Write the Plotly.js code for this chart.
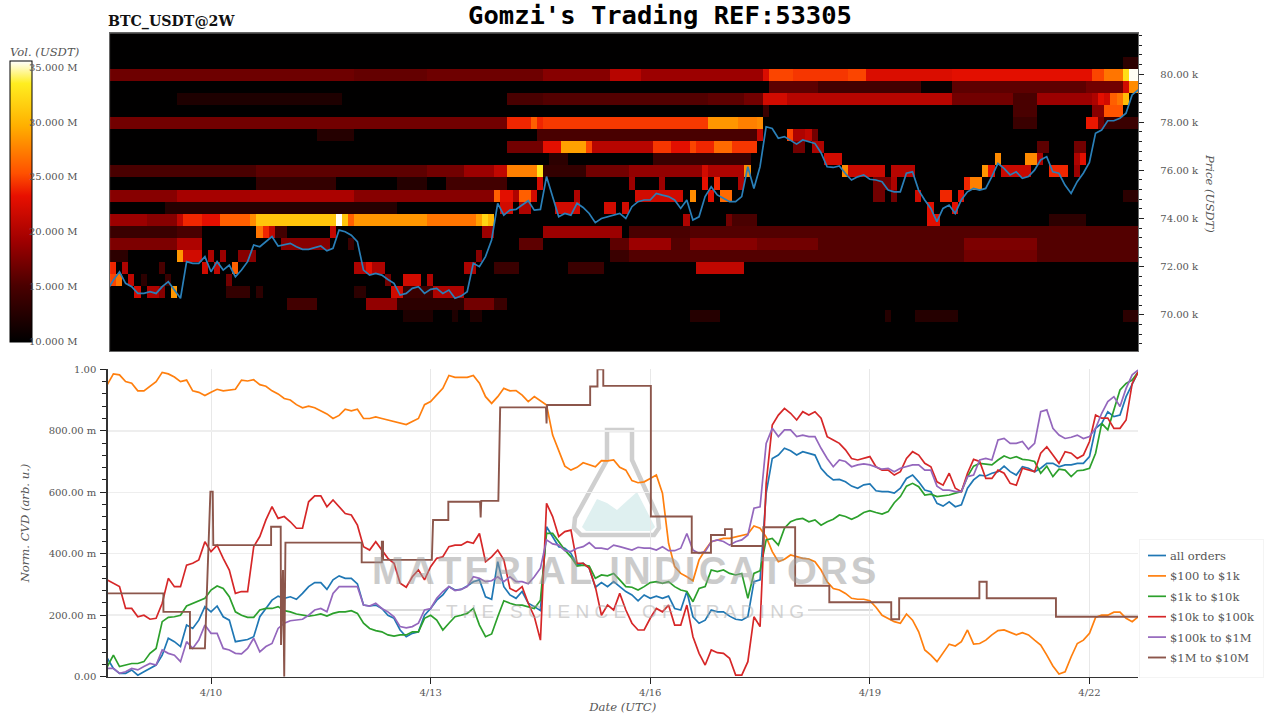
<!DOCTYPE html>
<html><head><meta charset="utf-8">
<script src="https://cdn.plot.ly/plotly-3.0.1.min.js"></script>
<style>html,body{margin:0;padding:0;background:#fff}#c{width:1280px;height:720px}</style>
</head><body><div id="c"></div>
<script>
// ---- CVD series, sampled every 2 h from 4/8 14:00 UTC
const allOrders=[.06,.027,.011,.011,.022,.005,.016,.027,.038,.07,.125,.114,.098,.168,.157,.184,.228,.211,.23,.195,.184,.114,.117,.121,.13,.195,.222,.249,.262,.255,.26,.252,.271,.293,.306,.306,.284,.315,.328,.32,.32,.302,.233,.23,.233,.222,.2,.19,.152,.13,.141,.146,.2,.222,.249,.266,.293,.282,.284,.295,.309,.315,.26,.252,.374,.293,.266,.255,.277,.239,.228,.215,.488,.456,.423,.418,.401,.363,.369,.353,.291,.306,.293,.309,.293,.277,.266,.247,.266,.255,.262,.255,.262,.222,.217,.277,.195,.174,.184,.217,.211,.211,.197,.187,.184,.195,.309,.315,.597,.71,.721,.743,.735,.721,.732,.727,.721,.678,.656,.64,.642,.634,.62,.613,.624,.627,.605,.602,.602,.597,.613,.645,.656,.634,.607,.602,.564,.555,.569,.553,.559,.613,.64,.656,.653,.662,.667,.685,.667,.656,.683,.678,.667,.678,.694,.694,.683,.689,.689,.694,.694,.716,.808,.824,.862,.846,.851,.911,.954,.992];
const usd100to1k=[.95,.985,.982,.96,.955,.93,.93,.945,.96,.99,.985,.975,.96,.965,.93,.925,.915,.925,.935,.93,.932,.935,.965,.962,.966,.95,.945,.93,.92,.905,.9,.885,.875,.88,.875,.865,.855,.84,.85,.87,.865,.87,.84,.84,.845,.84,.835,.83,.825,.82,.83,.84,.885,.895,.917,.938,.98,.974,.974,.974,.98,.955,.911,.889,.911,.938,.93,.931,.916,.895,.911,.898,.884,.786,.732,.685,.672,.681,.696,.689,.683,.703,.702,.705,.681,.672,.638,.631,.634,.645,.656,.597,.434,.358,.336,.325,.312,.38,.412,.439,.445,.45,.45,.455,.461,.464,.49,.483,.455,.407,.374,.382,.396,.39,.385,.383,.374,.347,.309,.287,.282,.271,.255,.252,.252,.247,.226,.2,.19,.179,.174,.204,.184,.146,.087,.07,.049,.076,.106,.1,.114,.152,.106,.108,.119,.136,.15,.152,.143,.136,.143,.136,.119,.103,.07,.035,.009,.016,.065,.108,.119,.141,.193,.2,.2,.21,.21,.19,.179,.195];
const usd1kto10k=[.033,.07,.033,.038,.043,.043,.049,.076,.092,.179,.193,.195,.2,.23,.239,.247,.255,.282,.295,.287,.26,.211,.2,.193,.193,.217,.222,.222,.228,.215,.211,.204,.2,.197,.2,.204,.197,.206,.211,.211,.215,.206,.174,.157,.15,.146,.136,.132,.136,.136,.146,.146,.19,.2,.184,.152,.174,.195,.2,.206,.222,.168,.13,.139,.195,.247,.239,.233,.233,.228,.222,.249,.466,.466,.439,.412,.39,.36,.363,.36,.32,.331,.328,.336,.315,.293,.291,.282,.293,.306,.309,.304,.309,.293,.282,.277,.244,.287,.293,.347,.342,.347,.336,.331,.336,.255,.336,.345,.445,.45,.428,.483,.504,.512,.515,.504,.51,.493,.504,.512,.526,.521,.512,.521,.534,.54,.534,.529,.537,.566,.586,.62,.629,.618,.591,.594,.586,.588,.591,.597,.602,.651,.685,.694,.692,.689,.705,.718,.71,.716,.707,.705,.7,.662,.685,.651,.675,.672,.651,.67,.672,.678,.727,.824,.803,.868,.933,.954,.965,.992];
const usd10kto100k=[.315,.304,.293,.222,.222,.195,.2,.187,.19,.239,.32,.293,.293,.363,.369,.38,.439,.407,.428,.385,.347,.271,.277,.277,.423,.456,.51,.553,.515,.521,.504,.483,.483,.569,.588,.588,.553,.575,.553,.531,.526,.493,.423,.412,.439,.412,.385,.369,.304,.291,.325,.347,.315,.358,.385,.39,.423,.428,.428,.439,.434,.466,.374,.39,.412,.38,.287,.277,.293,.239,.195,.119,.564,.521,.456,.472,.477,.369,.369,.353,.293,.2,.233,.217,.271,.217,.174,.152,.152,.19,.222,.211,.233,.168,.168,.233,.13,.076,.038,.087,.078,.076,.06,.005,.005,.049,.195,.163,.629,.819,.851,.873,.857,.835,.862,.851,.862,.841,.781,.77,.759,.738,.71,.705,.71,.716,.683,.672,.672,.656,.667,.71,.732,.721,.694,.683,.634,.623,.662,.613,.602,.662,.707,.7,.645,.645,.672,.662,.629,.623,.678,.672,.667,.727,.748,.721,.694,.732,.727,.71,.721,.765,.851,.841,.841,.808,.808,.835,.954,.992];
const usd100kto1M=[.027,.027,.011,.016,.027,.022,.033,.043,.038,.087,.076,.07,.049,.114,.092,.119,.168,.141,.141,.092,.087,.076,.074,.092,.125,.081,.098,.108,.157,.174,.182,.184,.187,.2,.217,.222,.211,.271,.293,.293,.293,.293,.233,.23,.239,.222,.211,.195,.163,.159,.163,.174,.217,.222,.255,.277,.293,.28,.284,.293,.325,.32,.309,.312,.325,.309,.325,.309,.309,.302,.325,.353,.445,.432,.428,.41,.407,.418,.423,.436,.418,.418,.414,.428,.423,.418,.412,.421,.418,.418,.412,.423,.41,.41,.418,.466,.412,.401,.407,.439,.445,.44,.428,.439,.445,.461,.548,.553,.759,.808,.781,.803,.803,.781,.786,.781,.781,.743,.71,.683,.705,.7,.683,.689,.692,.689,.683,.675,.678,.667,.678,.683,.689,.689,.672,.672,.62,.607,.607,.602,.602,.651,.656,.705,.71,.705,.77,.775,.759,.759,.765,.74,.759,.862,.868,.808,.786,.775,.779,.786,.775,.781,.808,.857,.895,.911,.879,.938,.982,.998];
// $1M to $10M is a step curve: hours after 4/10 00:00 UTC and value
const stepHours=[-34,-15.6,-15.6,-6.9,-6.9,-2,-0.2,0.56,0.75,19.7,19.7,22.85,22.95,23.6,24,24.4,49.4,49.4,56,56,56.4,56.4,72.4,72.8,77.8,77.8,88.2,88.4,88.6,94.2,94.8,109.8,110,110.2,124.3,124.3,126.7,126.7,128.6,128.6,144.2,144.2,157.6,157.6,163.9,163.9,168.5,168.5,170.7,170.7,181.1,181.1,191.5,191.5,202.7,202.7,223,223,225.6,225.6,251.9,251.9,254.3,254.3,277,277,303.9];
const stepValues=[.271,.271,.211,.211,.092,.092,.602,.602,.428,.428,.488,.488,.103,.347,0,.436,.436,.372,.372,.439,.439,.38,.38,.51,.51,.569,.569,.518,.572,.572,.876,.876,.824,.884,.884,.944,.944,1,1,.946,.946,.521,.521,.403,.403,.461,.461,.48,.48,.425,.425,.486,.486,.296,.296,.242,.242,.187,.187,.255,.255,.309,.309,.255,.255,.195,.195];
// ---- BTC price (thousand USDT), every 2 h from 4/8 14:00 UTC
const priceK=[71.03,71.45,71.79,71.31,71.17,70.89,70.89,70.96,70.89,71.17,71.38,71.03,70.69,72.21,72.14,72.14,72.42,71.79,72.21,71.86,72.07,71.58,71.86,72.21,72.9,72.83,73.04,73.25,72.86,72.9,72.97,72.83,72.72,72.72,72.8,72.86,72.66,72.76,73.52,73.45,73.31,73.04,71.86,71.65,71.72,71.65,71.47,71.31,70.82,70.89,71.1,71.17,70.89,71.06,71.1,70.89,71.03,70.69,70.78,70.96,72.14,72,72.42,73.11,74.63,74.14,74.35,74.38,74.56,74.74,74.35,74.38,75.74,74.91,74.07,74.21,74.14,74.63,74.46,74.21,73.83,74,74.07,74.14,74.21,74,74.49,74.7,74.77,74.77,75.04,74.97,74.91,74.77,74.42,74.77,73.94,74.07,74.91,75.32,74.98,74.84,74.7,74.7,74.91,76.15,75.25,76.15,77.81,77.74,77.33,77.4,77.26,77.09,77.26,77.19,77.12,76.73,76.15,76.12,76.18,75.87,75.6,75.73,75.81,75.63,75.6,75.53,75.18,75.11,75.11,75.88,75.94,75.18,74.77,74.42,73.87,74.42,74.56,74.21,74.77,75.11,75.25,75.18,75.25,75.74,76.29,76.08,75.81,75.94,75.67,75.74,76.01,76.43,76.57,75.94,75.88,75.39,75.04,75.53,75.88,76.33,77.54,77.67,78.06,78.06,78.16,78.37,79.13,79.34];
// ---- liquidity rows: [first 2 h column, end column, volume in M USDT]
const row8045=[[166,170,13]];
const row7995=[[0,40,16.8],[40,52,16.3],[52,71,16.8],[71,82,18],[82,87,20.5],[87,107,19],[107,108,22.5],[108,112,25],[112,118,24.5],[118,121,24.5],[121,124,25],[124,138,22.5],[138,161,23],[161,163,25],[163,166,27],[166,167,32.5],[167,170,35.5]];
const row7945=[[108,116,16],[116,133,14.5],[133,138,10.5],[138,160,16],[160,166,17],[166,167,22],[167,170,28]];
const row7895=[[11,38,12],[65,71,15],[71,98,15.5],[98,104,16],[104,107,17],[107,111,22],[111,138,20.5],[138,148,17],[148,152,15],[152,161,19],[161,162,20],[162,163,23],[163,164,22],[164,165,26],[165,166,27],[166,167,30.5]];
const row7845=[[107,108,14],[148,152,15],[161,163,18],[163,166,25.5]];
const row7795=[[0,65,17],[65,69,24],[69,70,26],[70,71,24],[71,98,24.6],[98,103,28.5],[103,106,27.5],[106,107,28],[148,152,14],[160,162,23.5],[162,163,17],[163,170,14]];
const row7745=[[34,40,12.5],[70,106,15],[106,107,21],[111,112,25],[112,114,20],[114,115,21],[115,116,17]];
const row7695=[[65,71,17],[71,74,23],[74,78,29],[78,79,25],[79,89,20.5],[89,92,24.5],[92,95,23],[95,96,25],[96,99,24],[99,102,26.5],[102,106,24.5],[112,114,17],[115,117,20],[152,154,16],[158,160,17]];
const row7645=[[72,75,13],[89,105,14],[117,120,22],[145,146,28],[150,152,28],[152,153,20],[158,159,20],[159,160,23]];
const row7595=[[0,24,15],[24,52,16],[52,58,17],[58,63,19],[63,65,21],[65,70,27.5],[70,71,33],[71,78,13.5],[78,85,17],[85,97,18.5],[97,98,22],[98,104,20],[104,105,28],[120,121,28],[121,127,21.5],[128,132,20.5],[143,144,28.5],[144,145,23],[146,151,21.5],[154,157,24],[158,159,19]];
const row7545=[[24,37,13.5],[47,52,12.5],[55,65,14.5],[70,71,22],[85,86,19],[90,91,19],[97,98,23],[99,100,24],[103,104,20],[125,128,17],[128,129,20],[140,141,24],[141,143,27.5]];
const row7495=[[0,11,18],[11,23,19.5],[23,40,19.8],[40,63,18],[63,64,26],[64,66,23],[66,67,20],[67,69,26],[69,70,22],[76,77,20],[86,94,22],[95,96,28],[98,99,23],[100,102,26.5],[125,127,17],[128,129,17],[132,133,22],[136,138,24],[139,140,23],[166,170,13]];
const row7445=[[9,47,12.5],[64,66,22],[67,69,20],[73,77,22],[81,83,22],[84,85,22],[134,135,23],[138,139,23]];
const row7395=[[0,6,19],[6,11,18],[11,12,21],[12,15,24],[15,18,23],[18,23,26],[23,24,28],[24,37,31],[37,38,35.5],[38,39,31],[39,40,26],[40,52,28.5],[52,60,27],[60,61,29],[61,62,32],[62,63,30],[94,95,20],[101,102,17],[102,106,15],[134,136,23],[154,160,13]];
const row7345=[[0,11,14],[11,15,15],[24,25,27],[25,26,24],[26,27,21],[27,29,14.5],[36,37,21],[61,63,19],[71,84,19],[85,95,15],[95,106,15.5],[106,170,15.5]];
const row7295=[[0,11,17.5],[11,15,20],[28,36,18],[39,40,14],[67,71,16],[82,85,16],[85,92,19],[92,95,15.5],[95,106,18],[106,116,17],[116,140,15.5],[140,152,17.5],[152,170,15.5]];
const row7245=[[0,3,13],[11,12,28.5],[12,15,22],[16,17,20],[18,19,19],[21,24,18],[60,61,18],[82,85,14],[85,140,15.5],[140,152,17],[152,170,15.5]];
const row7195=[[0,1,24],[2,3,20],[8,9,15],[15,16,22],[17,18,21],[20,21,26],[40,42,20],[42,43,23],[43,45,20],[58,60,20],[63,67,14],[75,81,14],[96,104,21]];
const row7145=[[0,1,25],[1,2,27],[3,4,21],[5,6,13],[9,10,14],[19,20,17],[45,46,17],[48,51,22],[52,53,20]];
const row7095=[[4,5,22],[6,8,20],[8,9,18],[10,11,28.5],[19,23,13.5],[24,25,13],[40,42,13],[46,48,22],[48,53,14],[53,58,20]];
const row7045=[[29,34,14.5],[42,47,18.5],[47,58,13],[58,63,17],[63,65,14]];
const row6995=[[48,53,12],[56,57,12],[59,61,12],[95,100,12.5],[127,128,12.5],[132,139,12.5],[166,170,13]];
const priceBins=[80.45,79.95,79.45,78.95,78.45,77.95,77.45,76.95,76.45,75.95,75.45,74.95,74.45,73.95,73.45,72.95,72.45,71.95,71.45,70.95,70.45,69.95];
const binRows=[row8045,row7995,row7945,row7895,row7845,row7795,row7745,row7695,row7645,row7595,row7545,row7495,row7445,row7395,row7345,row7295,row7245,row7195,row7145,row7095,row7045,row6995];
const bottomBin=68.45, binStep=0.5, binCount=28, colCount=170;
const zGrid=Array.from({length:binCount},()=>new Array(colCount).fill(10));
priceBins.forEach((p,k)=>{
  const r=zGrid[Math.round((p-bottomBin)/binStep)];
  binRows[k].forEach(([a,b,v])=>{for(let c=a;c<b&&c<colCount;c++)r[c]=v;});
});
// ---- labels
const dateTickVals=['2026-04-10','2026-04-13','2026-04-16','2026-04-19','2026-04-22'];
const dateTickText=['4/10','4/13','4/16','4/19','4/22'];
const priceTickVals=[70,72,74,76,78,80];
const priceTickText=['70.00 k','72.00 k','74.00 k','76.00 k','78.00 k','80.00 k'];
const cvdTickVals=[0,.2,.4,.6,.8,1];
const cvdTickText=['0.00','200.00 m','400.00 m','600.00 m','800.00 m','1.00'];
const volTicks=[35,30,25,20,15,10];
const seriesNames=['all orders','$100 to $1k','$1k to $10k','$10k to $100k','$100k to $1M','$1M to $10M'];
const seriesColors=['#1f77b4','#ff7f0e','#2ca02c','#d62728','#9467bd','#8c564b'];
const seriesValues=[allOrders,usd100to1k,usd1kto10k,usd10kto100k,usd100kto1M];

const SERIF='"DejaVu Serif", serif', INK='#555';
const W=1280,H=720, px=x=>x/W, py=y=>1-y/H;
const HOUR=36e5, sampleStart='2026-04-08 14:00', base=Date.UTC(2026,3,10);
const stamp=h=>new Date(base+h*HOUR).toISOString().slice(0,19).replace('T',' ');
const poly=(pts)=>'M'+pts.map(p=>px(p[0]).toFixed(5)+','+py(p[1]).toFixed(5)).join(' L')+' Z';
const tickFont={family:SERIF,size:10,color:INK};
const titleFont={family:SERIF,size:11.6,color:INK,style:'italic'};

const traces=[{type:'heatmap',z:zGrid,x0:'2026-04-08 15:54',dx:2*HOUR,y0:bottomBin,dy:binStep,xaxis:'x',yaxis:'y',
  zmin:9.95,zmax:35.6,zsmooth:false,hoverinfo:'skip',showlegend:false,
  colorscale:[[0,'#000000'],[.2,'#4a0000'],[.36,'#a00000'],[.52,'#e81000'],[.6,'#ff5000'],[.77,'#ffb000'],[.92,'#ffee20'],[1,'#ffffff']],
  colorbar:{x:px(9.5),xanchor:'left',xpad:0,ypad:0,y:py(61),yanchor:'top',lenmode:'pixels',len:281,thicknessmode:'pixels',thickness:22,
    outlinewidth:1,outlinecolor:'#000',borderwidth:0,showticklabels:false,ticks:''}},
 {type:'scatter',mode:'lines',y:priceK,x0:sampleStart,dx:2*HOUR,xaxis:'x',yaxis:'y',cliponaxis:false,showlegend:false,
  line:{color:'#2a7fb8',width:1.7},name:'Price'}];
seriesValues.forEach((v,i)=>traces.push({type:'scatter',mode:'lines',y:v,x0:sampleStart,dx:2*HOUR,xaxis:'x2',yaxis:'y2',cliponaxis:false,
  name:seriesNames[i],legendgroup:'g'+i,line:{color:seriesColors[i],width:1.7}}));
traces.push({type:'scatter',mode:'lines',x:stepHours.map(stamp),y:stepValues,xaxis:'x2',yaxis:'y2',cliponaxis:false,
  name:seriesNames[5],legendgroup:'g5',line:{color:seriesColors[5],width:1.9}});

const spaced=s=>s.split('').join('\u200A');
const annotations=[
 {text:'BTC_USDT@2W',xref:'paper',yref:'paper',x:px(105.5),y:py(21),xanchor:'left',yanchor:'middle',showarrow:false,font:{family:SERIF,size:14.2,color:'#111',weight:'bold'}},
 {text:'Vol. (USDT)',xref:'paper',yref:'paper',x:px(44.5),y:py(52),xanchor:'center',yanchor:'middle',showarrow:false,font:titleFont},
 {text:'Price (USDT)',xref:'paper',yref:'paper',x:px(1210),y:py(193),xanchor:'center',yanchor:'middle',textangle:90,showarrow:false,font:titleFont},
 {text:spaced('MATERIAL INDICATORS'),xref:'paper',yref:'paper',x:px(623.5),y:py(570),xanchor:'center',yanchor:'middle',showarrow:false,opacity:.5,font:{family:'"Liberation Sans",sans-serif',size:38.3,color:'#999',weight:'bold'}},
 {text:'T H E   S C I E N C E   O F   T R A D I N G',xref:'paper',yref:'paper',x:px(625),y:py(611),xanchor:'center',yanchor:'middle',showarrow:false,opacity:.5,font:{family:'"Liberation Sans",sans-serif',size:19,color:'#aaa'}}
];
volTicks.forEach(v=>annotations.push({text:v.toFixed(3)+' M',xref:'paper',yref:'paper',x:px(27),y:py(341-(v-10)*10.94),xanchor:'left',yanchor:'middle',showarrow:false,font:tickFont}));

const shapes=[
 {type:'path',layer:'below',xref:'paper',yref:'paper',line:{width:0},fillcolor:'#dff0f0',
  path:poly([[582,527],[597,499],[607,503],[617,510],[628,500],[637,492],[655,527],[651,531],[586,531]])},
 {type:'path',layer:'below',xref:'paper',yref:'paper',line:{color:'rgba(175,175,175,.6)',width:4.5},fillcolor:'rgba(0,0,0,0)',
  path:poly([[607,430],[632,430],[632,460],[658,517],[659,528],[654,535],[581,535],[574,528],[575,518],[607,460]])},
 {type:'line',layer:'below',xref:'paper',yref:'paper',x0:px(383),x1:px(440),y0:py(610),y1:py(610),line:{color:'rgba(175,175,175,.6)',width:1.5}},
 {type:'line',layer:'below',xref:'paper',yref:'paper',x0:px(808),x1:px(873),y0:py(610),y1:py(610),line:{color:'rgba(175,175,175,.6)',width:1.5}}
];

const layout={width:W,height:H,margin:{l:0,r:0,t:0,b:0},paper_bgcolor:'#fff',plot_bgcolor:'#fff',font:{family:SERIF,color:INK},
 title:{text:"Gomzi's Trading REF:53305",x:660/W,xanchor:'center',xref:'paper',y:py(15),yref:'paper',yanchor:'middle',automargin:false,
   font:{family:'"DejaVu Sans Mono",monospace',size:25.5,color:'#000',weight:'bold'}},
 xaxis:{domain:[px(110),px(1138.3)],type:'date',range:['2026-04-08 14:53','2026-04-22 16:02'],showticklabels:false,ticks:'',showgrid:false,zeroline:false,
   showline:true,mirror:true,linecolor:'#666',linewidth:1,anchor:'y'},
 yaxis:{domain:[py(351),py(33.3)],range:[68.5,81.69],side:'right',anchor:'x',tickmode:'array',tickvals:priceTickVals,ticktext:priceTickText,tickfont:tickFont,
   ticks:'outside',ticklen:5,tickcolor:'#222',ticklabelstandoff:14,showgrid:false,zeroline:false,showline:true,mirror:true,linecolor:'#666',linewidth:1,
   minor:{ticks:'outside',ticklen:3,tickcolor:'#222',tickmode:'linear',tick0:68,dtick:.4,showgrid:false}},
 xaxis2:{domain:[px(107.5),px(1138)],type:'date',range:['2026-04-08 14:04','2026-04-22 15:54'],tickmode:'array',tickvals:dateTickVals,ticktext:dateTickText,tickfont:tickFont,
   ticks:'outside',ticklen:6,tickcolor:'#222',gridcolor:'#e8e8e8',gridwidth:1,zeroline:false,showline:true,linecolor:'#333',linewidth:1.2,anchor:'y2',
   title:{text:'Date (UTC)',font:titleFont,standoff:6}},
 yaxis2:{domain:[py(676.7),py(369.3)],range:[0,1],anchor:'x2',tickmode:'array',tickvals:cvdTickVals,ticktext:cvdTickText,tickfont:tickFont,
   ticks:'outside',ticklen:6,tickcolor:'#222',gridcolor:'#eeeeee',gridwidth:1.5,zeroline:false,showline:true,linecolor:'#333',linewidth:1.2,ticklabelstandoff:2,
   minor:{ticks:'outside',ticklen:4,tickcolor:'#222',tickmode:'linear',tick0:0,dtick:.04,showgrid:false},
   title:{text:'Norm. CVD (arb. u.)',font:titleFont,standoff:16}},
 legend:{x:px(1139),xanchor:'left',y:py(540),yanchor:'top',bgcolor:'#fff',bordercolor:'#f4f4f4',borderwidth:1,font:{family:SERIF,size:11.5,color:INK},itemwidth:30,tracegroupgap:1.4},
 annotations,shapes,hovermode:false};
Plotly.newPlot('c',traces,layout,{displayModeBar:false,staticPlot:true}).then(gd=>{
  // tighten the legend to the reference's shorter swatches and narrower box
  gd.querySelectorAll('.legend .legendlines path').forEach(p=>p.setAttribute('d','M8,0h18'));
  gd.querySelectorAll('.legend .legendtext').forEach(t=>t.setAttribute('x','30'));
  const bg=gd.querySelector('.legend rect.bg');
  if(bg){bg.setAttribute('width','124');bg.setAttribute('y','-1');bg.setAttribute('height','138');}
});
</script></body></html>
